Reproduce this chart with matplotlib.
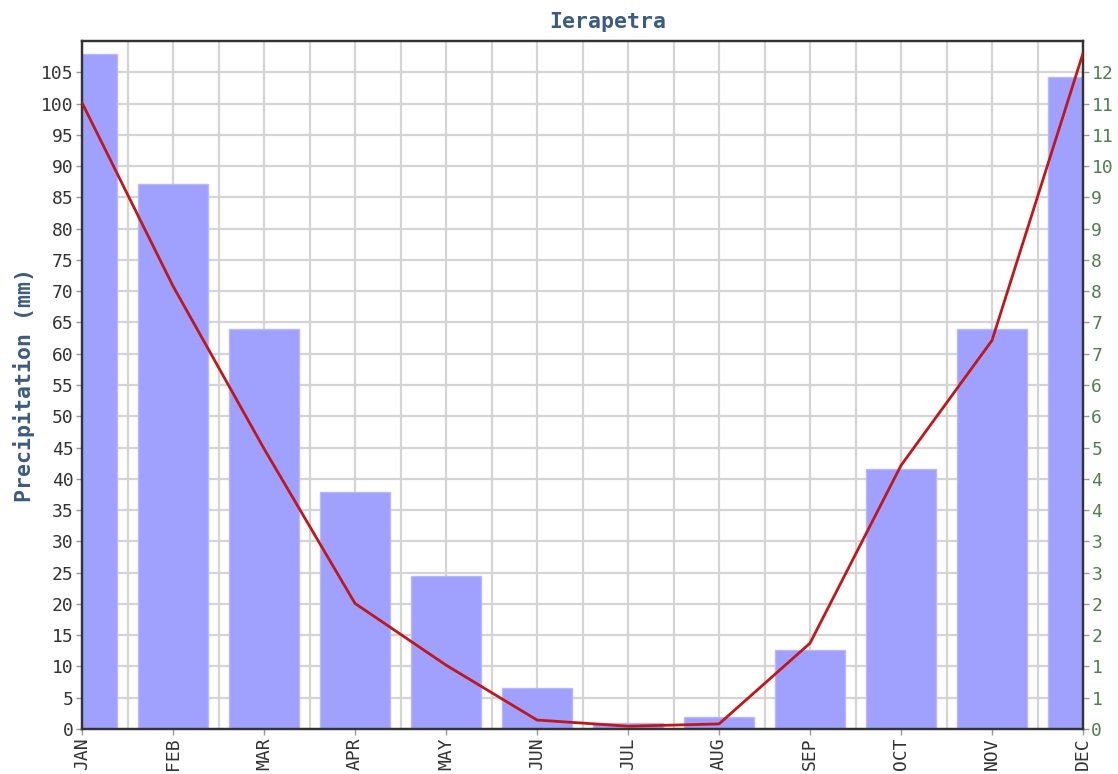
import numpy as np
import matplotlib
matplotlib.use('Agg')
import matplotlib.pyplot as plt

months = ['JAN', 'FEB', 'MAR', 'APR', 'MAY', 'JUN', 'JUL', 'AUG', 'SEP', 'OCT', 'NOV', 'DEC']
precip_mm = [108.0, 87.1, 63.9, 37.9, 24.5, 6.5, 1.0, 1.9, 12.6, 41.6, 63.9, 104.2]
# red line, read against the right axis
line_values = [11.17, 7.9, 5.0, 2.24, 1.14, 0.16, 0.05, 0.09, 1.53, 4.7, 6.93, 12.05]

left_max = 110
right_max = 12.27
left_ticks = np.arange(0, 106, 5)

mono = 'DejaVu Sans Mono'
title_color = '#3b5b80'
right_color = '#4f7f4f'

fig = plt.figure(figsize=(11.18, 7.74), dpi=100)
ax = fig.add_axes([82 / 1118, 45 / 774, 1001 / 1118, 688 / 774])

x = np.arange(len(months))
ax.bar(x, precip_mm, width=0.77, color='#a0a0ff', edgecolor='#b8b8ff', linewidth=1, zorder=2)

ax.set_xlim(0, 11)
ax.set_ylim(0, left_max)
ax.set_xticks(x)
ax.set_xticklabels(months, rotation=90, family=mono, fontsize=13, color='#333333')
ax.set_xticks(np.arange(0.5, 11, 1), minor=True)
ax.tick_params(axis='x', which='minor', length=0)
ax.set_yticks(left_ticks)
ax.set_yticklabels([str(v) for v in left_ticks], family=mono, fontsize=13, color='#333333')
ax.tick_params(axis='both', which='major', length=4, width=1, color='#999999', pad=2)
ax.grid(True, which='both', color='#d4d4d4', linewidth=1.6)
ax.set_axisbelow(True)

ax.set_ylabel('Precipitation (mm)', family=mono, fontsize=15.5, fontweight='bold', color=title_color, labelpad=4)
ax.set_title('Ierapetra', family=mono, fontsize=15.5, fontweight='bold', color=title_color, pad=9, x=0.525)

for s in ax.spines.values():
    s.set_color('#333333')
    s.set_linewidth(1.6)

ax2 = ax.twinx()
ax2.plot(x, line_values, color='#c01818', linewidth=2, zorder=3)
ax2.set_ylim(0, right_max)
right_ticks = left_ticks * right_max / left_max
ax2.set_yticks(right_ticks)
ax2.set_yticklabels([str(int(v + 0.5)) for v in right_ticks], family=mono, fontsize=13, color=right_color)
ax2.tick_params(axis='y', length=4, width=1, color='#999999', pad=2)
for s in ax2.spines.values():
    s.set_color('#333333')
    s.set_linewidth(1.6)

fig.savefig('out.png', dpi=100)
